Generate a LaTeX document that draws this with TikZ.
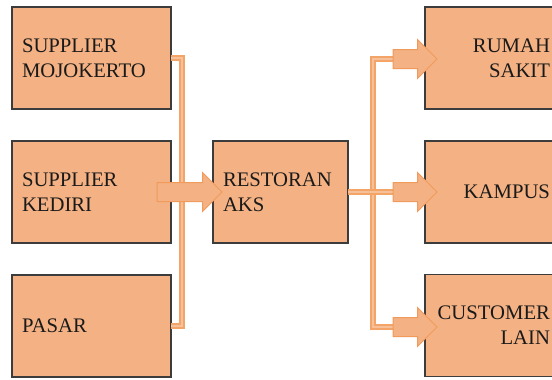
\documentclass[tikz,border=0pt]{standalone}
\usepackage{fontspec}
\setmainfont{Liberation Serif}
\usetikzlibrary{calc}
\definecolor{boxfill}{HTML}{F4B183}
\definecolor{boxline}{HTML}{3C3C3C}
\definecolor{txt}{HTML}{1A1A1A}
\definecolor{pipeout}{HTML}{F2A469}
\definecolor{pipein}{HTML}{F7C098}
\definecolor{arrline}{HTML}{F09A5C}
\newcommand\myblockarr[2]{%
  \draw[arr] ($(#1)+(0,-9.5)$) -- ($(#2)+(-19.5,-9.5)$) -- ($(#2)+(-19.5,-19.5)$) -- (#2)
    -- ($(#2)+(-19.5,19.5)$) -- ($(#2)+(-19.5,9.5)$) -- ($(#1)+(0,9.5)$) -- cycle;}
\begin{document}
\begin{tikzpicture}[x=1pt,y=-1pt,
  box/.style={draw=boxline, fill=boxfill, line width=1.3pt, minimum height=102pt,
    inner xsep=10pt, inner ysep=0pt, outer sep=0pt,
    font=\fontsize{20.7}{24.8}\selectfont, text=txt},
  lbox/.style={box, text width=139pt, align=left},
  rabox/.style={box, text width=115pt, align=left},
  rbox/.style={box, text width=115pt, align=right},
  pipe/.style={draw=pipeout, double=pipein, double distance=2.6pt, line width=1.6pt},
  arr/.style={draw=arrline, fill=boxfill, line width=1pt, line join=miter}]
\useasboundingbox (0,0) rectangle (552,380);
\clip (0,0) rectangle (552,380);
\node[lbox] (sm) at (91.5,58) {SUPPLIER\\MOJOKERTO};
\node[lbox] (sk) at (91.5,192) {SUPPLIER\\KEDIRI};
\node[lbox] (ps) at (91.5,326) {PASAR};
\node[rabox] (ra) at (280.5,192) {RESTORAN\\AKS};
\node[rbox] (rs) at (492.5,58) {RUMAH\\SAKIT};
\node[rbox] (kp) at (492.5,192) {KAMPUS};
\node[rbox] (cl) at (492.5,325.5) {CUSTOMER\\LAIN};
\coordinate (t0) at (157,192);
\coordinate (p0) at (222,192);
\coordinate (t1) at (393,59);
\coordinate (p1) at (437,59);
\coordinate (t2) at (393,192);
\coordinate (p2) at (437,192);
\coordinate (t3) at (393,327);
\coordinate (p3) at (437,327);
\coordinate (lx) at (182,0);
\coordinate (rx) at (373,0);
\draw[pipe] (sm.east) -| (ps.east -| lx) -- (ps.east);
\draw[pipe] (t1) -| (t3 -| rx) -- (t3);
\draw[pipe] (ra.east) -- (t2);
\myblockarr{t0}{p0}
\myblockarr{t1}{p1}
\myblockarr{t2}{p2}
\myblockarr{t3}{p3}
\end{tikzpicture}
\end{document}
